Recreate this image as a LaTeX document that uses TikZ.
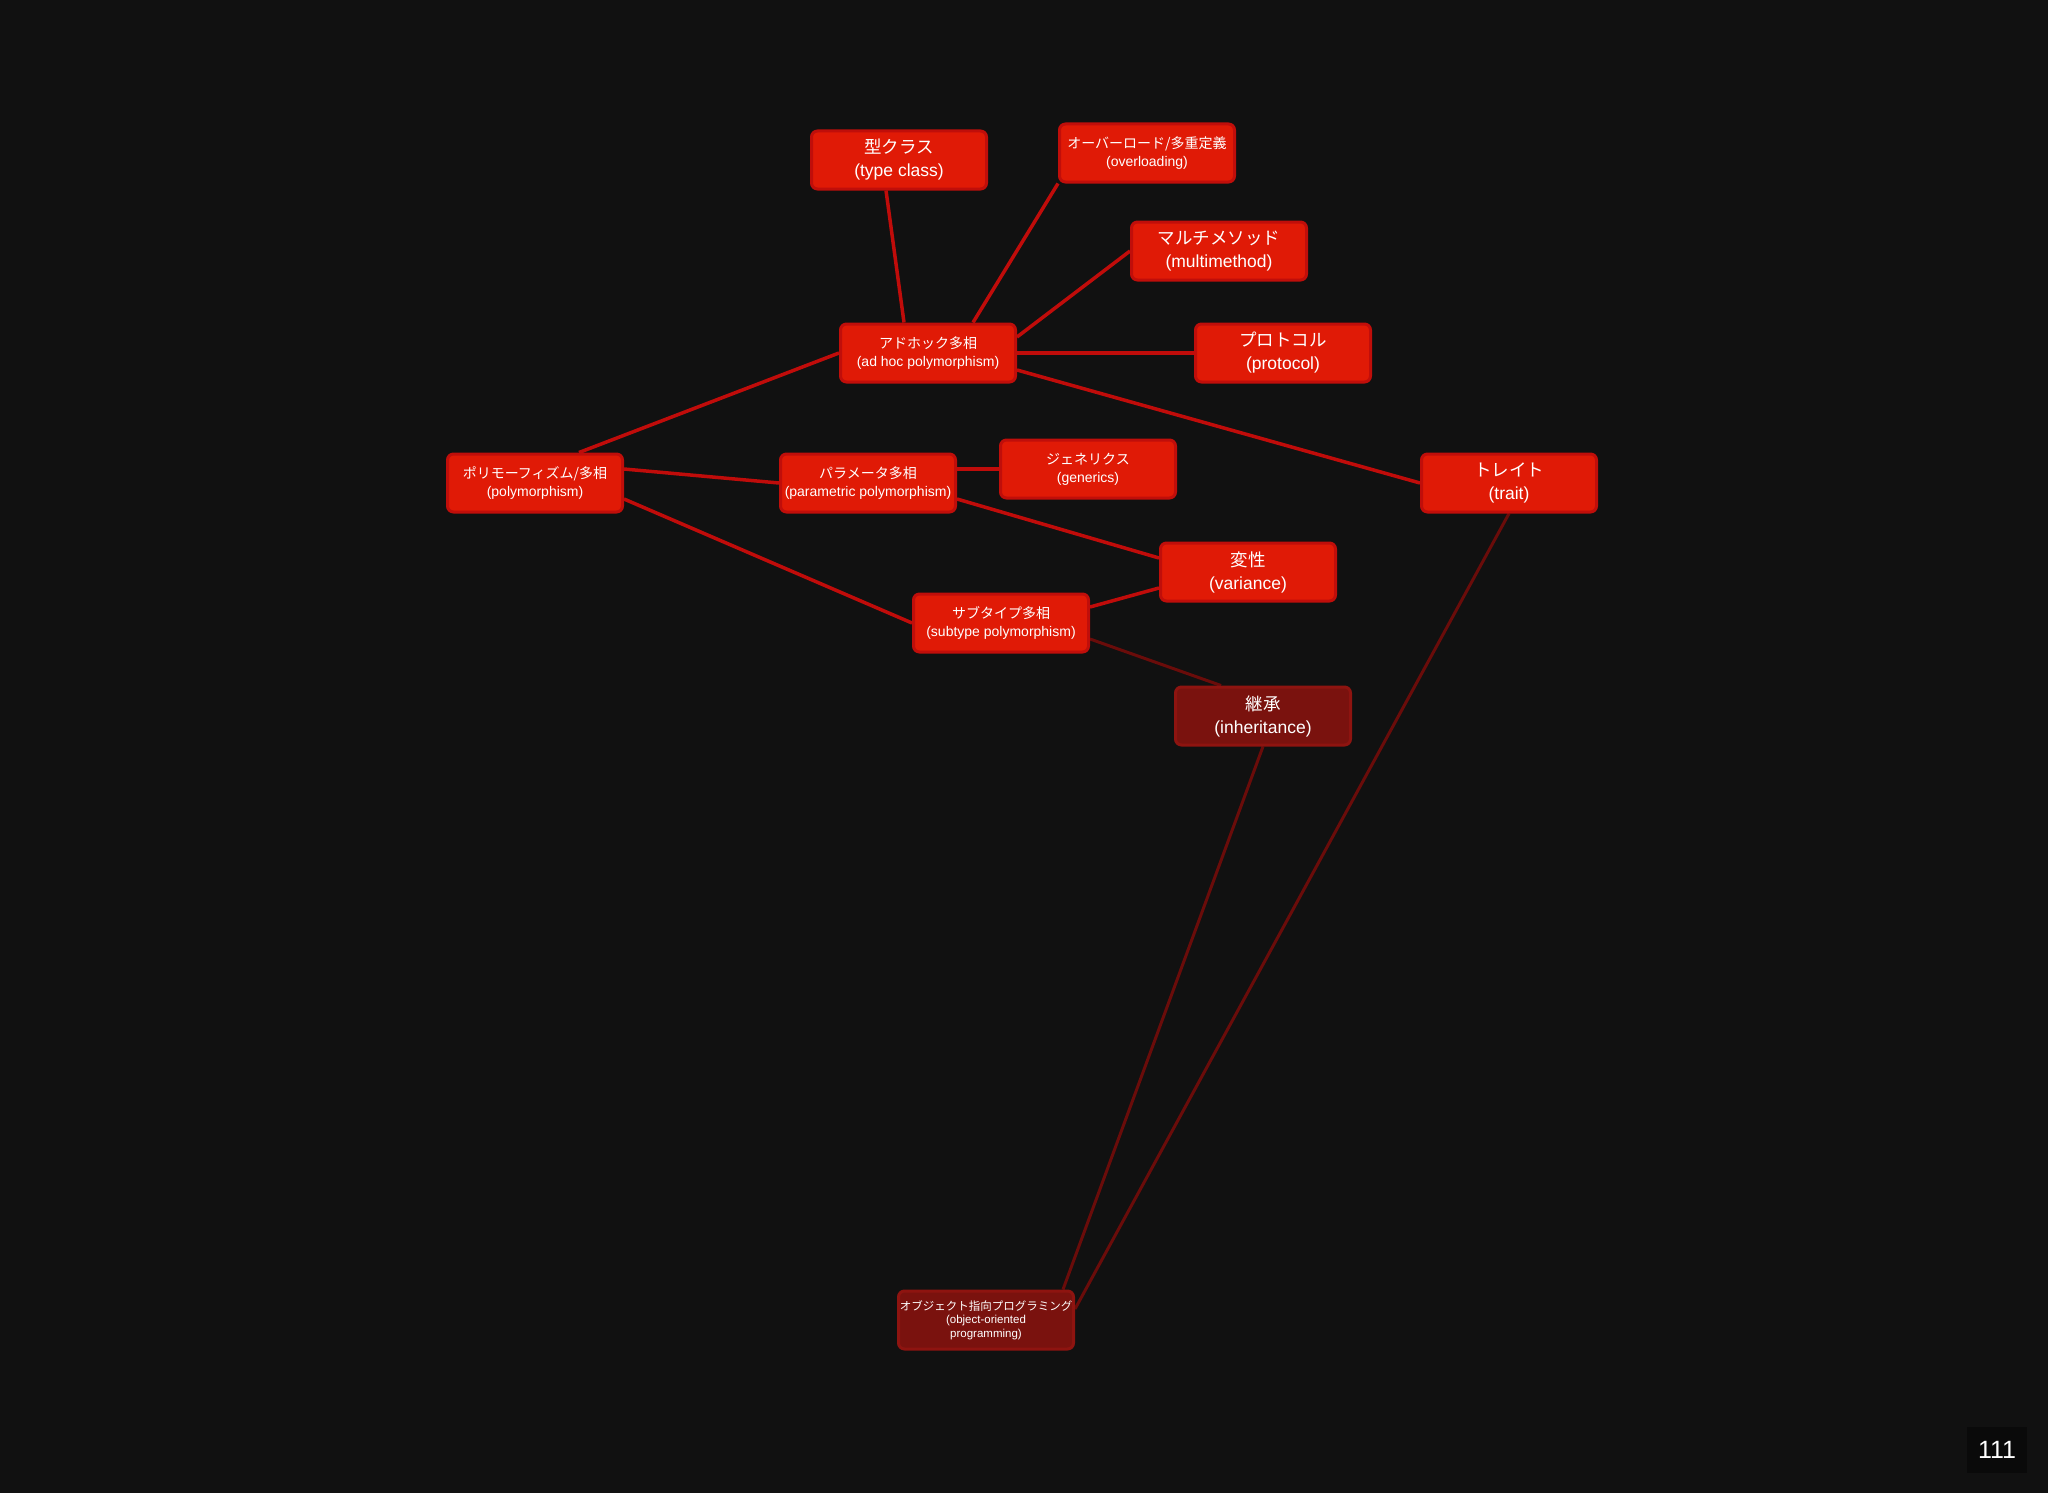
\documentclass[tikz,border=0pt]{standalone}
\usepackage{fontspec}
\setmainfont{Liberation Sans}
\newfontfamily\jp{Noto Sans CJK JP}
\usetikzlibrary{calc,backgrounds}
\definecolor{bg}{HTML}{111111}
\definecolor{pgbg}{HTML}{0A0A0A}
\definecolor{nfill}{HTML}{E01A06}
\definecolor{nborder}{HTML}{C00E0A}
\definecolor{dfill}{HTML}{7A120E}
\definecolor{dborder}{HTML}{8E1410}
\definecolor{edgecol}{HTML}{C00C0A}
\definecolor{dedgecol}{HTML}{6A0C0A}
\begin{document}
\begin{tikzpicture}[x=1pt,y=-1pt,
  box/.style={draw=nborder, fill=nfill, line width=3pt, rounded corners=6pt,
    minimum width=175pt, minimum height=58pt, inner sep=0pt, align=center, text=white},
  dbox/.style={box, draw=dborder, fill=dfill},
  big/.style={font=\fontsize{17.5}{23}\selectfont},
  small/.style={font=\fontsize{14}{18}\selectfont},
  tiny/.style={font=\fontsize{11.5}{13.5}\selectfont},
  edge/.style={draw=edgecol, line width=3.5pt},
  dedge/.style={draw=dedgecol, line width=3pt}]
\useasboundingbox (0,0) rectangle (2048,1493);

\node[box,big]   (tc)   at (899,160)  {{\jp 型クラス}\\(type class)};
\node[box,small] (ov)   at (1147,153) {{\jp オーバーロード/多重定義}\\(overloading)};
\node[box,big]   (mm)   at (1219,251) {{\jp マルチメソッド}\\(multimethod)};
\node[box,big]   (pr)   at (1283,353) {{\jp プロトコル}\\(protocol)};
\node[box,small] (ah)   at (928,353)  {{\jp アドホック多相}\\(ad hoc polymorphism)};
\node[box,small] (poly) at (535,483)  {{\jp ポリモーフィズム/多相}\\(polymorphism)};
\node[box,small] (par)  at (868,483)  {{\jp パラメータ多相}\\(parametric polymorphism)};
\node[box,small] (gen)  at (1088,469) {{\jp ジェネリクス}\\(generics)};
\node[box,big]   (tr)   at (1509,483) {{\jp トレイト}\\(trait)};
\node[box,big]   (var)  at (1248,572) {{\jp 変性}\\(variance)};
\node[box,small] (sub)  at (1001,623) {{\jp サブタイプ多相}\\(subtype polymorphism)};
\node[dbox,big]  (inh)  at (1263,716) {{\jp 継承}\\(inheritance)};
\node[dbox,tiny] (oop)  at (986,1320) {{\jp オブジェクト指向プログラミング}\\(object-oriented\\programming)};
\node[fill=pgbg, minimum width=60pt, minimum height=46pt, inner sep=0pt,
  text=white, font=\fontsize{25}{28}\selectfont] (pg) at (1997,1450) {111};

\begin{scope}[on background layer]
\fill[bg] (0,0) rectangle (2048,1493);
\draw[edge] ($(tc.south)+(-13,0)$) -- ($(ah.north)+(-24,0)$);
\draw[edge] (ov.south west) -- ($(ah.north)+(45,0)$);
\draw[edge] (mm.west) -- ($(ah.east)+(0,-16)$);
\draw[edge] (ah.east) -- (pr.west);
\draw[edge] ($(ah.east)+(0,17)$) -- (tr.west);
\draw[edge] ($(poly.north)+(44,0)$) -- (ah.west);
\draw[edge] ($(poly.east)+(0,-14)$) -- (par.west);
\draw[edge] ($(par.east)+(0,-14)$) -- (gen.west);
\draw[edge] ($(par.east)+(0,16)$) -- ($(var.west)+(0,-14)$);
\draw[edge] ($(poly.east)+(0,16)$) -- (sub.west);
\draw[edge] ($(sub.east)+(0,-16)$) -- ($(var.west)+(0,16)$);
\draw[dedge] ($(sub.east)+(0,16)$) -- ($(inh.north)+(-42,0)$);
\draw[dedge] (inh.south) -- ($(oop.north)+(77,0)$);
\draw[dedge] (tr.south) -- ($(oop.east)+(0,-11)$);
\end{scope}
\end{tikzpicture}
\end{document}
